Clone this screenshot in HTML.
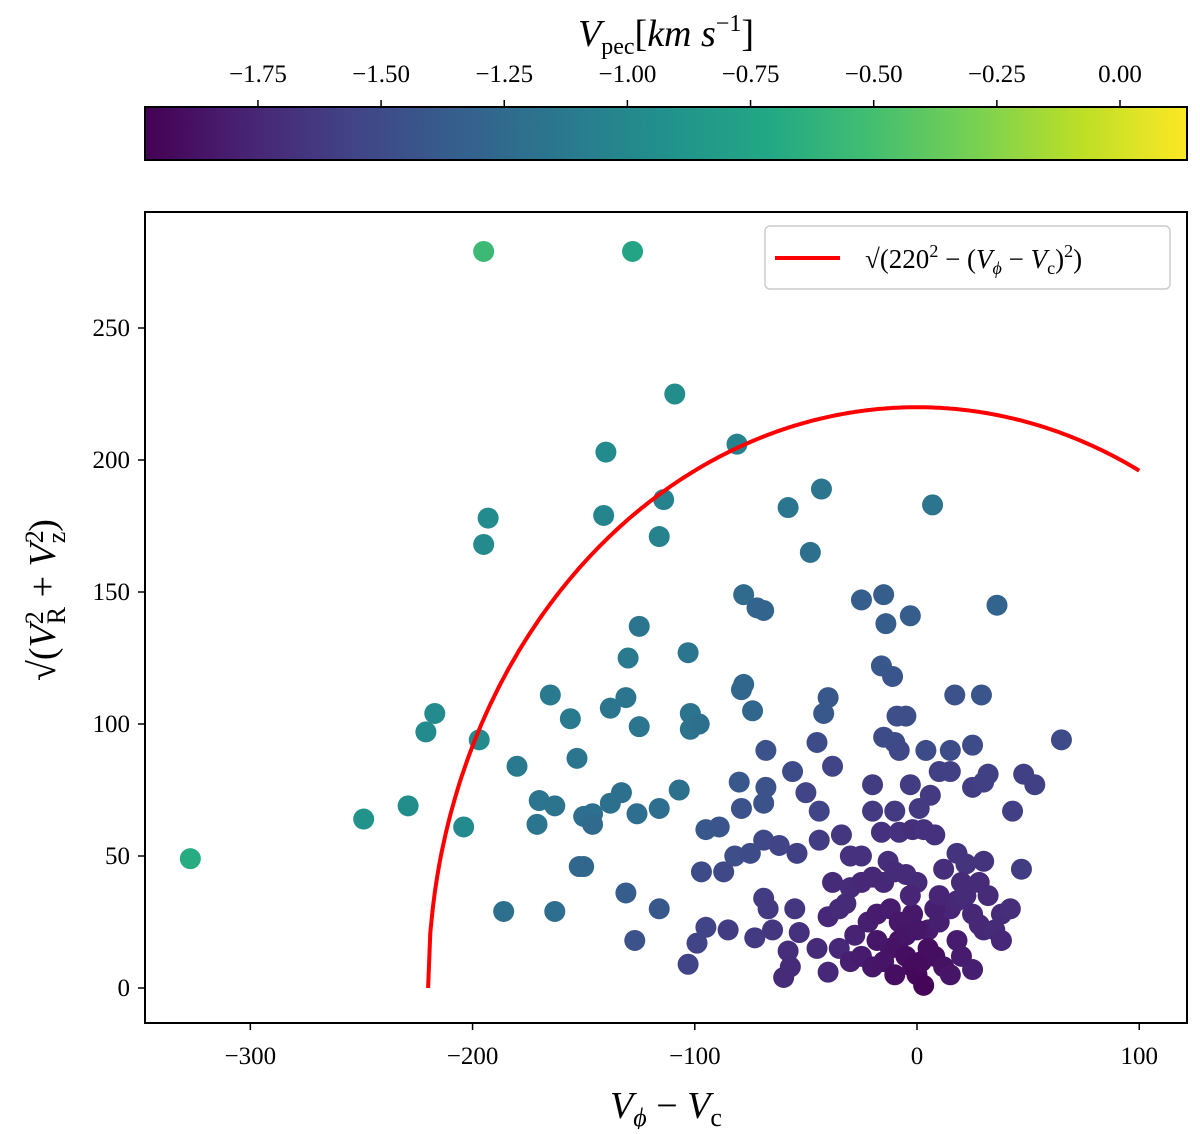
<!DOCTYPE html>
<html><head><meta charset="utf-8"><style>
body{margin:0;background:#fff}
svg text{font-family:"Liberation Serif","DejaVu Serif",serif;fill:#000}
</style></head><body>
<svg id="chart" width="1200" height="1129" viewBox="0 0 1200 1129" xmlns="http://www.w3.org/2000/svg">
<defs>
<linearGradient id="vir" x1="0" x2="1" y1="0" y2="0">
<stop offset="0" stop-color="#440154"/><stop offset="0.1" stop-color="#482475"/><stop offset="0.2" stop-color="#414487"/><stop offset="0.3" stop-color="#355f8d"/><stop offset="0.4" stop-color="#2a788e"/><stop offset="0.5" stop-color="#21918c"/><stop offset="0.6" stop-color="#22a884"/><stop offset="0.7" stop-color="#44bf70"/><stop offset="0.8" stop-color="#7ad151"/><stop offset="0.9" stop-color="#bddf26"/><stop offset="1" stop-color="#fde725"/>
</linearGradient>
<clipPath id="clip"><rect x="145" y="212" width="1042" height="811"/></clipPath>
</defs>
<text x="666" y="46" font-size="38" text-anchor="middle"><tspan font-style="italic">V</tspan><tspan font-size="24" dy="8">pec</tspan><tspan dy="-8">[</tspan><tspan font-style="italic">km s</tspan><tspan font-size="24" dy="-15">−1</tspan><tspan dy="15">]</tspan></text>
<rect x="145" y="107" width="1042" height="53" fill="url(#vir)" stroke="#000" stroke-width="2"/>
<g id="cbticks"></g>
<rect x="145" y="212" width="1042" height="811" fill="none" stroke="#000" stroke-width="2"/>
<g id="xticks"></g>
<g id="yticks"></g>
<g id="points" clip-path="url(#clip)"></g>
<path id="curve" fill="none" stroke="#ff0000" stroke-width="4"/>
<text x="666" y="1118" font-size="38" text-anchor="middle"><tspan font-style="italic">V</tspan><tspan font-size="26" dy="8" font-style="italic">ϕ</tspan><tspan dy="-8"> − </tspan><tspan font-style="italic">V</tspan><tspan font-size="26" dy="8">c</tspan></text>
<text transform="translate(55,600) rotate(-90)" font-size="38" text-anchor="middle">√(<tspan font-style="italic">V</tspan><tspan font-size="26" dy="-12">2</tspan><tspan font-size="26" dx="-13" dy="22">R</tspan><tspan dy="-10"> + </tspan><tspan font-style="italic">V</tspan><tspan font-size="26" dy="-12">2</tspan><tspan font-size="26" dx="-13" dy="22">z</tspan><tspan dy="-10">)</tspan></text>
<g>
<rect x="765" y="226" width="405" height="63" rx="5" fill="#fff" stroke="#ccc" stroke-width="1.5"/>
<line x1="775" y1="258" x2="840" y2="258" stroke="#ff0000" stroke-width="4"/>
<text x="865" y="268" font-size="27">√(220<tspan font-size="18" dy="-11">2</tspan><tspan dy="11"> − (</tspan><tspan font-style="italic">V</tspan><tspan font-size="18" dy="6" font-style="italic">ϕ</tspan><tspan dy="-6"> − </tspan><tspan font-style="italic">V</tspan><tspan font-size="18" dy="6">c</tspan><tspan dy="-6">)</tspan><tspan font-size="18" dy="-11">2</tspan><tspan dy="11">)</tspan></text>
</g>
</svg>
<script>
const xTicks=[-300,-200,-100,0,100];
const yTicks=[0,50,100,150,200,250];
const cbTicks=[-1.75,-1.5,-1.25,-1.0,-0.75,-0.5,-0.25,0.0];
const cbLabels=["−1.75","−1.50","−1.25","−1.00","−0.75","−0.50","−0.25","0.00"];
const curveR=[220];
const curveRange=[-220,100];
const px=[-195,-128,-109,-81,-140,-114,-141,-193,-195,-116,-58,-43,7,-48,-78,-72,-69,-25,-15,-14,-3,36,-125,-130,-103,-131,-165,-138,-125,-102,-102,-98,-74,-79,-78,-40,-42,-217,-221,-197,-156,-153,-16,-11,-15,-10,-8,-5,-9,4,15,17,29,25,-45,-38,-68,-56,-180,-249,-229,-204,-170,-171,-163,-146,-150,-146,-138,-133,-126,-116,-107,-80,-79,-68,-69,-50,-44,-20,-20,-10,-3,1,6,10,15,25,30,32,43,48,53,65,-95,-89,-82,-75,-69,-62,-54,-44,-34,-30,-25,-13,-16,-8,-2,3,8,18,22,30,47,-150,-152,-327,-186,-163,-131,-116,-127,-97,-87,-95,-99,-103,-85,-73,-69,-67,-65,-55,-53,-58,-57,-60,-45,-40,-35,-40,-35,-38,-30,-25,-20,-15,-10,-5,0,-28,-22,-18,-12,-8,-2,5,10,15,18,22,25,28,30,35,38,42,-30,-25,-20,-15,-12,-8,-5,-2,0,2,5,8,12,15,18,20,25,-18,-10,3,-5,0,8,10,-3,20,32,28,38,-32,12];
const py=[279,279,225,206,203,185,179,178,168,171,182,189,183,165,149,144,143,147,149,138,141,145,137,125,127,110,111,106,99,104,98,100,105,113,115,110,104,104,97,94,102,87,122,118,95,93,90,103,103,90,90,111,111,92,93,84,90,82,84,64,69,61,71,62,69,66,65,62,70,74,66,68,75,78,68,76,70,74,67,77,67,67,77,68,73,82,82,76,78,81,67,81,77,94,60,61,50,51,56,54,51,56,58,50,50,48,59,59,60,60,58,51,47,48,45,46,46,49,29,29,36,30,18,44,44,23,17,9,22,19,34,30,22,30,21,14,8,4,15,6,15,27,30,40,38,40,42,40,44,43,40,20,25,28,30,25,28,22,25,30,33,35,28,24,22,22,28,30,10,12,8,10,15,18,12,8,5,10,15,12,8,5,18,12,7,18,5,1,20,22,30,35,35,40,35,40,18,32,45];
const pv=[-0.55,-0.75,-0.96,-1.05,-0.98,-1.05,-1.02,-0.98,-0.98,-1.05,-1.15,-1.15,-1.15,-1.2,-1.25,-1.3,-1.3,-1.35,-1.35,-1.35,-1.35,-1.3,-1.15,-1.12,-1.15,-1.15,-1.12,-1.15,-1.15,-1.18,-1.18,-1.2,-1.28,-1.28,-1.28,-1.4,-1.4,-0.98,-0.98,-0.98,-1.12,-1.15,-1.4,-1.42,-1.5,-1.5,-1.52,-1.48,-1.48,-1.5,-1.5,-1.45,-1.42,-1.5,-1.5,-1.55,-1.45,-1.5,-1.12,-0.9,-0.95,-0.98,-1.15,-1.15,-1.18,-1.22,-1.22,-1.25,-1.2,-1.2,-1.22,-1.22,-1.2,-1.4,-1.45,-1.45,-1.45,-1.55,-1.55,-1.6,-1.62,-1.62,-1.6,-1.62,-1.62,-1.58,-1.58,-1.6,-1.58,-1.58,-1.58,-1.58,-1.58,-1.5,-1.4,-1.42,-1.48,-1.5,-1.52,-1.55,-1.58,-1.6,-1.65,-1.68,-1.68,-1.7,-1.68,-1.68,-1.7,-1.68,-1.68,-1.66,-1.66,-1.66,-1.6,-1.28,-1.28,-0.68,-1.2,-1.22,-1.35,-1.4,-1.45,-1.5,-1.52,-1.55,-1.55,-1.55,-1.6,-1.62,-1.6,-1.62,-1.65,-1.65,-1.68,-1.7,-1.72,-1.72,-1.72,-1.75,-1.75,-1.75,-1.72,-1.72,-1.72,-1.74,-1.74,-1.74,-1.72,-1.72,-1.72,-1.78,-1.8,-1.82,-1.82,-1.84,-1.84,-1.82,-1.8,-1.76,-1.74,-1.72,-1.74,-1.74,-1.74,-1.72,-1.72,-1.7,-1.8,-1.82,-1.85,-1.86,-1.87,-1.88,-1.9,-1.92,-1.93,-1.92,-1.9,-1.9,-1.88,-1.86,-1.82,-1.82,-1.8,-1.85,-1.9,-1.95,-1.86,-1.85,-1.8,-1.76,-1.76,-1.72,-1.72,-1.72,-1.75,-1.72,-1.7];
const NS='http://www.w3.org/2000/svg';
const X=v=>917+2.2222*v, Y=v=>988-2.64*v, CB=v=>1120+(v-0)*492.6;
const stops=[[68,1,84],[72,36,117],[65,68,135],[53,95,141],[42,120,142],[33,145,140],[34,168,132],[68,191,112],[122,209,81],[189,223,38],[253,231,37]];
function vir(t){t=Math.max(0,Math.min(1,t))*10;const i=Math.min(9,Math.floor(t)),f=t-i,a=stops[i],b=stops[i+1];return `rgb(${a.map((c,k)=>Math.round(c+(b[k]-c)*f)).join(',')})`;}
const vmin=-1.98,vmax=0.136;
function mk(tag,attrs,parent){const e=document.createElementNS(NS,tag);for(const k in attrs)e.setAttribute(k,attrs[k]);parent.appendChild(e);return e;}
const gx=document.getElementById('xticks');
xTicks.forEach(t=>{
 const l=mk('line',{x1:X(t),x2:X(t),y1:1023,y2:1030,stroke:'#000','stroke-width':1.5},gx);
 
 
 const tx=mk('text',{x:X(t),y:1064,'font-size':25,'text-anchor':'middle'},gx);
 
 
 tx.textContent=t<0?'−'+(-t):String(t);
});
const gy=document.getElementById('yticks');
yTicks.forEach(t=>{
 const l=mk('line',{x1:138,x2:145,y1:Y(t),y2:Y(t),stroke:'#000','stroke-width':1.5},gy);
 
 
 const tx=mk('text',{x:130,y:Y(t)+8,'font-size':25,'text-anchor':'end'},gy);
 
 
 tx.textContent=String(t);
});
const gc=document.getElementById('cbticks');
cbTicks.forEach((t,i)=>{
 const l=mk('line',{x1:CB(t),x2:CB(t),y1:100,y2:107,stroke:'#000','stroke-width':1.5},gc);
 
 
 const tx=mk('text',{x:CB(t),y:82,'font-size':25,'text-anchor':'middle'},gc);
 
 
 tx.textContent=cbLabels[i];
});
const gp=document.getElementById('points');
px.forEach((v,i)=>{
 const c=mk('circle',{cx:X(v),cy:Y(py[i]),r:10.5,fill:vir((pv[i]-vmin)/(vmax-vmin))},gp);
 
 
});
let d='';
for(let v=curveRange[0];v<=curveRange[1];v+=1){const y=Math.sqrt(Math.max(0,curveR[0]*curveR[0]-v*v));d+=(d?'L':'M')+X(v).toFixed(1)+','+Y(y).toFixed(1);}
document.getElementById('curve').setAttribute('d',d);
</script>
</body></html>
